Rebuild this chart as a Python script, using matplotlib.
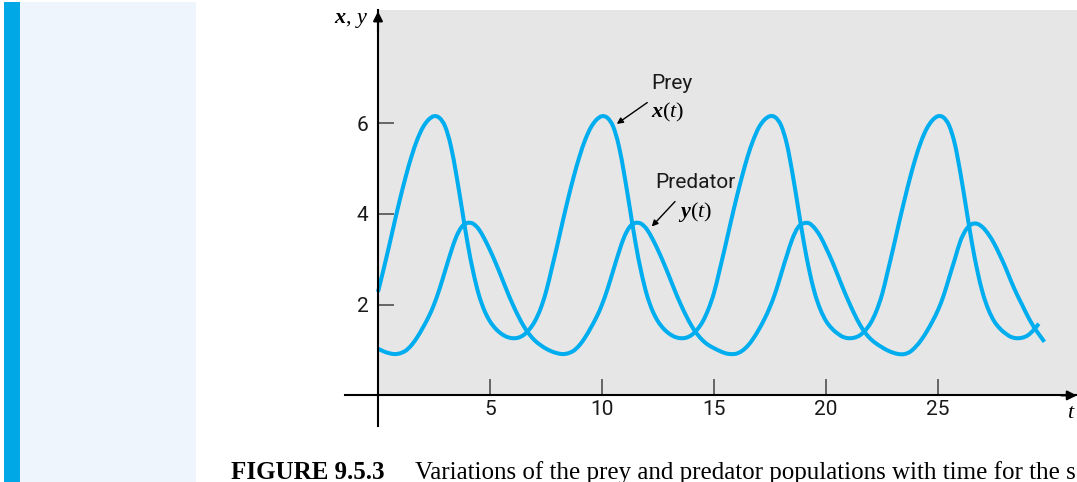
import numpy as np
import matplotlib
matplotlib.use("Agg")
import matplotlib.pyplot as plt
from matplotlib.patches import Rectangle, PathPatch
from matplotlib.path import Path

plt.rcParams["font.family"] = ["Roboto", "DejaVu Sans"]
plt.rcParams["mathtext.fontset"] = "custom"
plt.rcParams["mathtext.rm"] = "Liberation Serif"
plt.rcParams["mathtext.it"] = "Liberation Serif:italic"
plt.rcParams["mathtext.bf"] = "Liberation Serif:italic:bold"

# time grid, step 0.25
t = np.arange(0, 29.76, 0.25)

# prey x(t) (ends at t = 29.5)
prey = [
    2.28, 2.78, 3.30, 3.84, 4.36, 4.84, 5.27, 5.63, 5.90, 6.07, 6.15, 6.11, 5.92, 5.50, 4.85,
    4.10, 3.35, 2.72, 2.22, 1.87, 1.63, 1.47, 1.36, 1.29, 1.26, 1.27, 1.33, 1.45, 1.63, 1.90,
    2.28, 2.78, 3.30, 3.84, 4.36, 4.84, 5.27, 5.63, 5.90, 6.07, 6.15, 6.11, 5.92, 5.50, 4.85,
    4.10, 3.35, 2.72, 2.22, 1.87, 1.63, 1.47, 1.36, 1.29, 1.26, 1.27, 1.33, 1.45, 1.63, 1.90,
    2.26, 2.76, 3.28, 3.82, 4.34, 4.82, 5.26, 5.62, 5.90, 6.07, 6.15, 6.12, 5.94, 5.54, 4.90,
    4.15, 3.40, 2.76, 2.25, 1.89, 1.64, 1.48, 1.37, 1.29, 1.26, 1.27, 1.32, 1.43, 1.60, 1.86,
    2.22, 2.72, 3.24, 3.78, 4.30, 4.79, 5.23, 5.60, 5.88, 6.06, 6.15, 6.12, 5.94, 5.54, 4.90,
    4.15, 3.40, 2.76, 2.25, 1.89, 1.64, 1.48, 1.37, 1.29, 1.26, 1.27, 1.32, 1.43, 1.58,
]

# predator y(t)
predator = [
    1.03, 0.97, 0.93, 0.91, 0.93, 0.99, 1.11, 1.28, 1.49, 1.72, 2.00, 2.35, 2.75, 3.15, 3.50,
    3.72, 3.80, 3.78, 3.66, 3.45, 3.20, 2.92, 2.62, 2.31, 2.02, 1.76, 1.53, 1.35, 1.21, 1.11,
    1.03, 0.97, 0.93, 0.91, 0.93, 0.99, 1.11, 1.28, 1.49, 1.72, 2.00, 2.35, 2.75, 3.15, 3.50,
    3.72, 3.80, 3.78, 3.66, 3.45, 3.20, 2.92, 2.62, 2.31, 2.02, 1.76, 1.53, 1.35, 1.21, 1.11,
    1.04, 0.98, 0.93, 0.91, 0.92, 0.98, 1.09, 1.25, 1.45, 1.68, 1.95, 2.28, 2.68, 3.08, 3.45,
    3.70, 3.79, 3.79, 3.68, 3.50, 3.25, 2.98, 2.68, 2.37, 2.08, 1.81, 1.57, 1.38, 1.24, 1.14,
    1.06, 0.99, 0.94, 0.91, 0.91, 0.96, 1.07, 1.22, 1.41, 1.63, 1.88, 2.20, 2.60, 3.00, 3.40,
    3.65, 3.77, 3.78, 3.70, 3.55, 3.35, 3.10, 2.83, 2.53, 2.25, 2.00, 1.75, 1.53, 1.35, 1.18,
]

xticks = [5, 10, 15, 20, 25]
yticks = [2, 4, 6]

W, H = 1077, 482
curve_color = "#00AEEF"


def smooth_path(xs, ys):
    # Catmull-Rom through the read points, drawn as cubic Bezier segments
    pts = np.column_stack([xs, ys])
    n = len(pts)
    verts = [pts[0]]
    codes = [Path.MOVETO]
    for i in range(n - 1):
        p0 = pts[max(i - 1, 0)]
        p1 = pts[i]
        p2 = pts[i + 1]
        p3 = pts[min(i + 2, n - 1)]
        verts += [p1 + (p2 - p0) / 6, p2 - (p3 - p1) / 6, p2]
        codes += [Path.CURVE4] * 3
    return Path(verts, codes)


fig = plt.figure(figsize=(W / 100, H / 100), dpi=100)

# side decorations of the page
fig.add_artist(Rectangle((4 / W, 0), 16 / W, 480 / H, transform=fig.transFigure,
                         color="#00A9E6", lw=0))
fig.add_artist(Rectangle((20 / W, 0), 176 / W, 480 / H, transform=fig.transFigure,
                         color="#EEF5FC", lw=0))

ax = fig.add_axes([345 / W, 56 / H, 732 / W, 416 / H])
ax.set_xlim(-1.473, 31.205)
ax.set_ylim(-0.674, 8.489)
ax.patch.set_visible(False)
ax.add_patch(Rectangle((0, 0), 40, 20, color="#E6E6E6", lw=0, zorder=0))

for series in (prey, predator):
    path = smooth_path(t[:len(series)], series)
    ax.add_patch(PathPatch(path, fill=False, edgecolor=curve_color, lw=2.9, zorder=3))

for side in ["top", "right"]:
    ax.spines[side].set_visible(False)
for side in ["left", "bottom"]:
    ax.spines[side].set_position(("data", 0))
    ax.spines[side].set_linewidth(1.5)
    ax.spines[side].set_zorder(4)

ax.set_xticks(xticks)
ax.set_yticks(yticks)
ax.tick_params(direction="in", length=11.5, width=1.1, color="#444444",
               labelsize=15, labelcolor="#1a1a1a")
ax.tick_params(axis="x", pad=3)
ax.tick_params(axis="y", pad=7)

# arrow heads on the axes
ax.annotate("", xy=(0, 8.46), xytext=(0, 8.0),
            arrowprops=dict(arrowstyle="-|>", color="k", lw=1.5, mutation_scale=14,
                            shrinkA=0, shrinkB=0), annotation_clip=False)
ax.annotate("", xy=(31.2, 0), xytext=(30.5, 0),
            arrowprops=dict(arrowstyle="-|>", color="k", lw=1.5, mutation_scale=14,
                            shrinkA=0, shrinkB=0), annotation_clip=False)

ax.text(-1.2, 8.27, r"$\mathbf{x},\,y$", fontsize=16, ha="center", va="center", clip_on=False)
ax.text(30.94, -0.37, r"$t$", fontsize=16, ha="center", va="center", clip_on=False)

# curve labels
ax.text(13.13, 6.86, "Prey", fontsize=15, color="#1a1a1a", ha="center", va="center")
ax.text(12.95, 6.24, r"$\mathbf{x}(t)$", fontsize=16, ha="center", va="center")
ax.annotate("", xy=(10.66, 5.98), xytext=(12.02, 6.45),
            arrowprops=dict(arrowstyle="-|>", color="k", lw=1, mutation_scale=9,
                            shrinkA=0, shrinkB=0))
ax.text(14.15, 4.68, "Predator", fontsize=15, color="#1a1a1a", ha="center", va="center")
ax.text(14.15, 4.04, r"$\mathbf{y}(t)$", fontsize=16, ha="center", va="center")
ax.annotate("", xy=(12.22, 3.72), xytext=(13.26, 4.27),
            arrowprops=dict(arrowstyle="-|>", color="k", lw=1, mutation_scale=9,
                            shrinkA=0, shrinkB=0))

# caption
fig.text(231 / W, 3 / H, "FIGURE 9.5.3", fontsize=18, fontweight="bold",
         family="Liberation Serif", ha="left", va="baseline")
fig.text(415 / W, 3 / H, "Variations of the prey and predator populations with time for the s",
         fontsize=18, family="Liberation Serif", ha="left", va="baseline")

fig.savefig("out.png", dpi=100)
